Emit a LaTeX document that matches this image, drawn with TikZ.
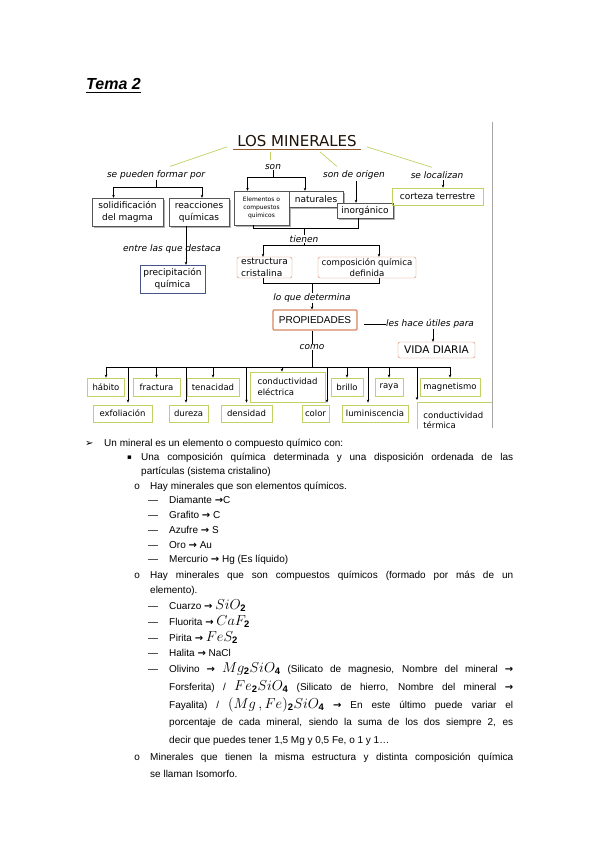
\documentclass[tikz,border=0pt]{standalone}
\usepackage{fontspec}
\setmainfont{Liberation Sans}
\newfontfamily\mapfont{DejaVu Sans}
\newfontfamily\symfont{DejaVu Sans}
\newfontfamily\bulletfont{Liberation Mono}
\usepackage{tikz}
\usetikzlibrary{arrows.meta, calc, shadows}
\definecolor{mapGreen}{RGB}{192,210,100}
\definecolor{mapOrange}{RGB}{214,136,98}
\definecolor{mapBlue}{RGB}{70,84,136}
\definecolor{mapGray}{RGB}{85,85,85}
\definecolor{mapBrown}{RGB}{150,88,40}
\newcommand\mapsize{\fontsize{9}{11.5}\selectfont}
\newcommand\jline[2]{\makebox[#1][s]{#2}}
\newcommand\tarr{{\symfont\bfseries\fontsize{10}{10}\selectfont →}}
\newcommand\itemdash{\makebox[21pt][l]{—}}
\newcommand\chem[1]{{\fontsize{13.5}{14}\selectfont$#1$}}
\tikzset{
  lbl/.style={font=\mapfont\mapsize\itshape, inner sep=0pt},
  gbox/.style={draw=mapGray, fill=white, align=center, inner sep=0pt,
               font=\mapfont\mapsize,
               drop shadow={shadow xshift=1.6pt, shadow yshift=-1.6pt,
                            fill=gray!60, opacity=1}},
  bbox/.style={draw=mapBlue, fill=white, align=center, inner sep=0pt,
               font=\mapfont\mapsize},
  obox/.style={draw=mapOrange, rounded corners=2pt, align=center,
               inner sep=0pt, font=\mapfont\mapsize},
  pbox/.style={draw=mapGreen, line width=0.8pt, align=center,
               inner sep=0pt, minimum height=18pt,
               font=\mapfont\fontsize{8.5}{10.5}\selectfont},
  arr/.style={-{Stealth[length=3pt, width=2.6pt]}, line width=0.5pt},
  arrs/.style={{Stealth[length=3pt, width=2.6pt]}-{Stealth[length=3pt, width=2.6pt]},
               line width=0.5pt},
  link/.style={mapGreen, line width=0.7pt},
  txt/.style={anchor=base west, inner sep=0pt},
}

\begin{document}
\begin{tikzpicture}[x=1pt, y=-1pt]
  \fill[white] (0,0) rectangle (599,848);
  \useasboundingbox (0,0) rectangle (599,848);
  % title
  \node[txt, font=\fontsize{16}{19}\selectfont\bfseries\itshape] (tema) at (86,90) {Tema 2};
  \draw[line width=1.1pt] ([yshift=-2.5pt]tema.base west) -- ([yshift=-2.5pt]tema.base east);

  % --- concept map ---
  \coordinate (frameTop) at (492,122);
  \coordinate (frameBot) at (492,428);
  \draw[gray!70, line width=0.7pt] (frameTop) -- (frameBot);
  \node[font=\mapfont\fontsize{15}{18}\selectfont, text=black!80!mapBrown,
        inner xsep=4pt, inner ysep=1pt] (minerales) at (297,141) {LOS MINERALES};
  \draw[mapBrown, line width=0.9pt] ([yshift=-1.5pt]minerales.south west)
    -- ([yshift=-1.5pt]minerales.south east);

  % linking words
  \node[lbl] (formar) at (156,175) {se pueden formar por};
  \node[lbl] (son) at (273,167) {son};
  \node[lbl] (origen) at (354,175) {son de origen};
  \node[lbl] (localizan) at (437,175) {se localizan};
  \node[lbl] (destaca) at (172,249) {entre las que destaca};
  \node[lbl] (tienen) at (304,239) {tienen};
  \node[lbl] (determina) at (312,298) {lo que determina};
  \node[lbl] (como) at (312,347) {como};
  \node[lbl] (utiles) at (430,324) {les hace útiles para};

  % green links from the root
  \draw[link] ($(minerales.south west)+(-6,-1)$) -- ($(formar.north)+(14,-4)$);
  \draw[link] ($(minerales.south)+(-27,4)$) -- ($(son.north)+(-3,-4)$);
  \draw[link] ($(minerales.south)+(23,4)$) -- ($(origen.north)+(-17,-4)$);
  \draw[link] ($(minerales.south east)+(6,-1)$) -- ($(localizan.north)+(-5,-4)$);

  % first level boxes
  \node[gbox, minimum width=71pt, minimum height=28pt] (solid) at (127.5,212) {solidificación\\del magma};
  \node[gbox, minimum width=60pt, minimum height=28pt] (reac) at (199,212) {reacciones\\químicas};
  \node[bbox, minimum width=65pt, minimum height=28pt] (precip) at (172.5,279) {precipitación\\química};
  \node[gbox, minimum width=55pt, minimum height=34pt,
        font=\mapfont\fontsize{6}{8}\selectfont] (elem) at (261.5,208) {Elementos o\\compuestos\\químicos};
  \node[gbox, minimum width=54pt, minimum height=16pt] (natur) at (316,199) {naturales};
  \node[gbox, minimum width=56pt, minimum height=15pt] (inorg) at (365,210.5) {inorgánico};
  \node[pbox, minimum width=91pt, minimum height=17pt, line width=0.6pt,
        font=\mapfont\mapsize] (corteza) at (437.5,196.5) {corteza terrestre};
  \node[obox, minimum width=55pt, minimum height=21pt, align=left] (estruct) at (264.5,267.5) {estructura\\cristalina};
  \node[obox, minimum width=98pt, minimum height=21pt,
        font=\mapfont\fontsize{8.6}{11}\selectfont] (compos) at (367,267.5) {composición química\\definida};
  \node[obox, minimum width=84pt, minimum height=20pt, line width=1.1pt,
        rounded corners=1pt, font=\fontsize{10}{12}\selectfont] (propied) at (315,320) {PROPIEDADES};
  \node[obox, minimum width=77pt, minimum height=16pt,
        font=\mapfont\fontsize{10.5}{12}\selectfont] (vida) at (436.5,350) {VIDA DIARIA};

  % connectors of the upper part
  \draw[arrs] ($(solid.north)+(-14,0)$) -- ++(0,-11) coordinate (formarBus) -| ($(reac.north)+(3,0)$);
  \draw (formar.south) -- (formar.south |- formarBus);
  \draw[arrs] ($(elem.north)+(-14,0)$) -- ++(0,-14) coordinate (sonBus) -| ($(natur.north)+(-11,0)$);
  \draw (son.south) -- (son.south |- sonBus);
  \draw[arr] ($(origen.south)+(2,1)$) -- ($(inorg.north)+(-9,0)$);
  \draw[arr] ($(localizan.south)+(6,1)$) -- ($(corteza.north)+(5.5,0)$);
  \draw[arr] ($(reac.south)+(-13,0)$) -- ($(precip.north)+(13.5,0)$);
  \draw ($(elem.south)+(-8.5,0)$) -- ++(0,3) coordinate (origBus) -| ($(inorg.south)+(-7,0)$);
  \draw (tienen.north |- origBus) -- (tienen.north);
  \draw[arrs] ($(estruct.north)+(-1.5,0)$) -- ++(0,-12) coordinate (tienenBus) -| ($(compos.north)+(12,0)$);
  \draw (tienen.south) -- (tienen.south |- tienenBus);
  \draw ($(estruct.south)+(-1.5,0)$) -- ++(0,5) coordinate (detBus) -| ($(compos.south)+(12,0)$);
  \draw (determina.north |- detBus) -- (determina.north);
  \draw[arr] (determina.south) -- (determina.south |- propied.north);
  \draw ($(propied.east |- utiles.west)+(6,0)$) -- (utiles.west);
  \draw[arr] ($(utiles.south)+(3,0)$) -- ($(vida.north)+(-3.5,0)$);

  % properties
  \node[pbox, minimum width=37pt] (habito) at (106,387) {hábito};
  \node[pbox, minimum width=47pt] (fractura) at (156.5,387) {fractura};
  \node[pbox, minimum width=52pt] (tenacidad) at (213,387) {tenacidad};
  \node[pbox, minimum width=75pt, minimum height=30pt, align=left] (condElec) at (287.5,387) {conductividad\\eléctrica};
  \node[pbox, minimum width=32pt] (brillo) at (347,387) {brillo};
  \node[pbox, minimum width=28pt] (raya) at (389,387) {raya};
  \node[pbox, minimum width=60pt] (magnet) at (450,387) {magnetismo};
  \node[pbox, minimum width=59pt, minimum height=17pt] (exfol) at (122.5,413.5) {exfoliación};
  \node[pbox, minimum width=39pt, minimum height=17pt] (dureza) at (188.5,413.5) {dureza};
  \node[pbox, minimum width=51pt, minimum height=17pt] (densidad) at (246.5,413.5) {densidad};
  \node[pbox, minimum width=27pt, minimum height=17pt] (colorP) at (315.5,413.5) {color};
  \node[pbox, minimum width=66pt, minimum height=17pt] (lumin) at (375,413.5) {luminiscencia};
  \begin{scope}
    \clip (0,0) rectangle (frameBot);
    \node[pbox, anchor=north west, minimum width=78pt, minimum height=36pt,
          inner xsep=4pt, align=left, text width=66pt]
      (condTerm) at (417,402) {conductividad\\térmica};
  \end{scope}

  \coordinate (propBus) at (312,367);
  \draw (propied.south -| como.north) -- (como.north);
  \draw (como.south) -- (como.south |- propBus);
  \draw (habito.north |- propBus) -- (magnet.north |- propBus);
  \draw[arr] (habito.north |- propBus) -- (habito.north);
  \draw[arr] (fractura.north |- propBus) -- (fractura.north);
  \draw[arr] (tenacidad.north |- propBus) -- (tenacidad.north);
  \draw[arr] ($(condElec.north |- propBus)+(-5.5,0)$) -- ($(condElec.north)+(-5.5,0)$);
  \draw[arr] (brillo.north |- propBus) -- (brillo.north);
  \draw[arr] (raya.north |- propBus) -- (raya.north);
  \draw[arr] (magnet.north |- propBus) -- (magnet.north);
  \draw[arr] ($(exfol.north |- propBus)+(5.5,0)$) -- ($(exfol.north)+(5.5,-2)$);
  \draw[arr] ($(dureza.north |- propBus)+(-2.5,0)$) -- ($(dureza.north)+(-2.5,-2)$);
  \draw[arr] (densidad.north |- propBus) -- ($(densidad.north)+(0,-2)$);
  \draw[arr] ($(colorP.north |- propBus)+(11.5,0)$) -- ($(colorP.north)+(11.5,-2)$);
  \draw[arr] ($(lumin.north |- propBus)+(-7,0)$) -- ($(lumin.north)+(-7,-2)$);
  \draw[arr] (condTerm.north west |- propBus) -- ($(condTerm.north west)+(0,-2)$);

  % --- notes ---
  \node[txt, font=\symfont\fontsize{10}{12}\selectfont] (bulA) at (85,446.5) {➢};
  \node[txt] (lineA) at (104,446.5) {Un mineral es un elemento o compuesto químico con:};
  \node[txt, font=\symfont\fontsize{7}{12}\selectfont] (bulB) at (127,459.5) {▪};
  \node[txt] (lineB) at (141,460.5) {\jline{372pt}{Una composición química determinada y una disposición ordenada de las}};
  \node[txt] (lineC) at (141,474.5) {partículas (sistema cristalino)};
  \node[txt, font=\bulletfont] (bulC) at (134,489.5) {o};
  \node[txt] (lineD) at (150,489.5) {Hay minerales que son elementos químicos.};
  \node[txt] (lineE) at (148,503.5) {\itemdash Diamante \tarr C};
  \node[txt] (lineF) at (148,518.5) {\itemdash Grafito \tarr{} C};
  \node[txt] (lineG) at (148,533.5) {\itemdash Azufre \tarr{} S};
  \node[txt] (lineH) at (148,548.5) {\itemdash Oro \tarr{} Au};
  \node[txt] (lineI) at (148,562.5) {\itemdash Mercurio \tarr{} Hg (Es líquido)};
  \node[txt, font=\bulletfont] (bulD) at (134,578.5) {o};
  \node[txt] (lineJ) at (150,578.5) {\jline{363pt}{Hay minerales que son compuestos químicos (formado por más de un}};
  \node[txt] (lineK) at (150,593.5) {elemento).};
  \node[txt] (lineL) at (148,609.5) {\itemdash Cuarzo \tarr{} \chem{SiO_{\mathbf 2}}};
  \node[txt] (lineM) at (148,625.5) {\itemdash Fluorita \tarr{} \chem{CaF_{\mathbf 2}}};
  \node[txt] (lineN) at (148,641.5) {\itemdash Pirita \tarr{} \chem{FeS_{\mathbf 2}}};
  \node[txt] (lineO) at (148,656.5) {\itemdash Halita \tarr{} NaCl};
  \node[txt] (lineP) at (148,672.5) {\itemdash\jline{344pt}{Olivino \tarr{} \chem{Mg_{\mathbf 2}SiO_{\mathbf 4}} (Silicato de magnesio, Nombre del mineral \tarr}};
  \node[txt] (lineQ) at (169,690.5) {\jline{344pt}{Forsferita) / \chem{Fe_{\mathbf 2}SiO_{\mathbf 4}} (Silicato de hierro, Nombre del mineral \tarr}};
  \node[txt] (lineR) at (169,708.5) {\jline{344pt}{Fayalita) / \chem{(Mg\,,Fe)_{\mathbf 2}SiO_{\mathbf 4}} \tarr{} En este último puede variar el}};
  \node[txt] (lineS) at (169,725.5) {\jline{344pt}{porcentaje de cada mineral, siendo la suma de los dos siempre 2, es}};
  \node[txt] (lineT) at (169,743.5) {decir que puedes tener 1,5 Mg y 0,5 Fe, o 1 y 1…};
  \node[txt, font=\bulletfont] (bulE) at (134,760.5) {o};
  \node[txt] (lineU) at (150,760.5) {\jline{363pt}{Minerales que tienen la misma estructura y distinta composición química}};
  \node[txt] (lineV) at (150,777.5) {se llaman Isomorfo.};
\end{tikzpicture}
\end{document}
